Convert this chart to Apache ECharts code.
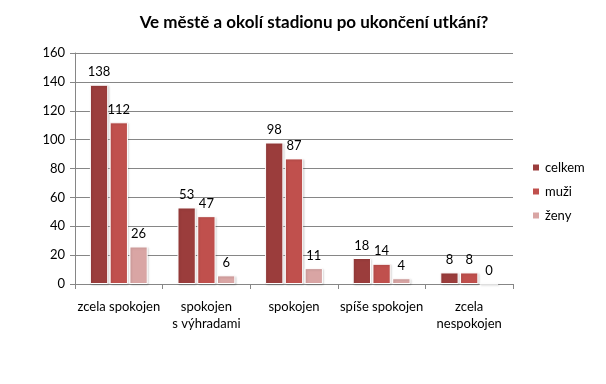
<!DOCTYPE html>
<html><head><meta charset="utf-8">
<script src="https://cdn.jsdelivr.net/npm/echarts@6/dist/echarts.min.js"></script>
<style>html,body{margin:0;padding:0;background:#fff}#c{width:606px;height:384px}</style>
</head><body><div id="c"></div>
<script>
var categories = ['zcela spokojen', 'spokojen\ns výhradami', 'spokojen', 'spíše spokojen', 'zcela\nnespokojen'];
var celkem = [138, 53, 98, 18, 8];
var muzi = [112, 47, 87, 14, 8];
var zeny = [26, 6, 11, 4, 0];
var seriesNames = ['celkem', 'muži', 'ženy'];
var colors = ['#9B3D3C', '#C0504D', '#D9A5A4'];
var title = 'Ve městě a okolí stadionu po ukončení utkání?';

var chart = echarts.init(document.getElementById('c'));
var font = 'Lato, DejaVu Sans, sans-serif';
function mk(name, data, i) {
  return {
    name: name, type: 'bar', data: data,
    barGap: '8%', barCategoryGap: '34%',
    itemStyle: {color: colors[i], borderColor: '#fff', borderWidth: 1,
      shadowColor: 'rgba(0,0,0,0.15)', shadowBlur: 2, shadowOffsetX: 1, shadowOffsetY: 1},
    label: {show: true, position: 'top', color: '#000', fontSize: 13, fontFamily: font, distance: 6},
    emphasis: {disabled: true}
  };
}
chart.setOption({
  animation: false,
  color: colors,
  title: {text: title, left: 309, top: 9, textAlign: 'center',
    textStyle: {fontSize: 17, fontWeight: 'bold', color: '#000', fontFamily: font}},
  legend: {orient: 'vertical', left: 526, top: 156, itemWidth: 8, itemHeight: 8, itemGap: 11,
    icon: 'rect', textStyle: {fontSize: 13, color: '#000', fontFamily: font}, data: seriesNames},
  grid: {left: 75, right: 93, top: 53, bottom: 100},
  xAxis: {type: 'category', data: categories,
    axisLine: {lineStyle: {color: '#868686'}},
    axisTick: {show: true, length: 5, lineStyle: {color: '#868686'}},
    axisLabel: {color: '#000', fontSize: 13, fontFamily: font, margin: 14, lineHeight: 17, interval: 0}},
  yAxis: {type: 'value', min: 0, max: 160, interval: 20,
    axisLine: {show: true, lineStyle: {color: '#868686'}},
    axisTick: {show: true, length: 5, inside: false, lineStyle: {color: '#868686'}},
    splitLine: {lineStyle: {color: '#868686'}},
    axisLabel: {color: '#000', fontSize: 13, fontFamily: font, margin: 10}},
  series: [mk(seriesNames[0], celkem, 0), mk(seriesNames[1], muzi, 1), mk(seriesNames[2], zeny, 2)]
});
</script></body></html>
